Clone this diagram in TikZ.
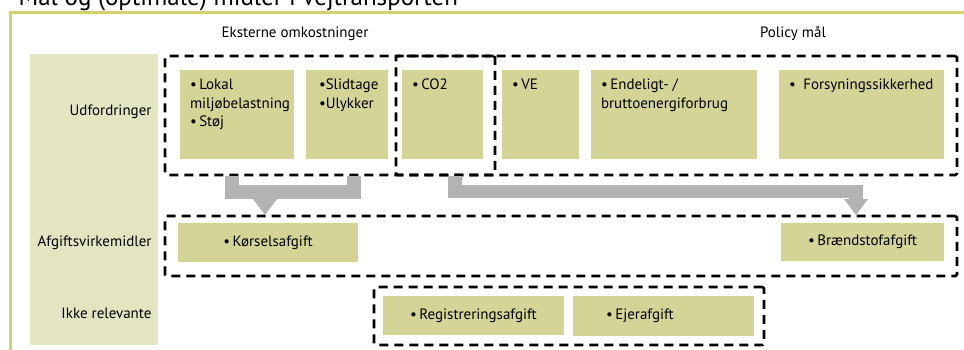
\documentclass[tikz,border=0pt]{standalone}
\usepackage{fontspec}
\setmainfont{PT Sans}
\usepackage{tikz}
\usetikzlibrary{arrows.meta}
\definecolor{CellGreen}{RGB}{211,212,149}
\definecolor{PaleGreen}{RGB}{227,229,193}
\definecolor{FrameGreen}{RGB}{212,209,108}
\definecolor{FlowGray}{RGB}{179,179,179}
\newcommand{\bodyfont}{\fontsize{15pt}{18.5pt}\selectfont}
% top aligned cell text: width, height, text
\newcommand{\cellbox}[3]{\parbox[t][\dimexpr#2pt-18pt\relax][t]{\dimexpr#1pt-20pt\relax}{\hyphenpenalty=10000\raggedright #3}}
\tikzset{
  frame/.style={draw=FrameGreen, line width=3pt, line join=miter},
  title/.style={anchor=base west, font=\fontsize{25pt}{29pt}\selectfont},
  rowpanel/.style={fill=PaleGreen, anchor=north west, inner sep=0pt, outer sep=0pt},
  rowlabel/.style={anchor=east, font=\bodyfont},
  head/.style={font=\bodyfont},
  group/.style={draw=black, line width=2.6pt, dash pattern=on 9pt off 6pt, rounded corners=1.5pt, anchor=north west, inner sep=0pt, outer sep=0pt},
  cell/.style={fill=CellGreen, anchor=north west, inner xsep=10pt, inner ysep=9pt, outer sep=0pt, font=\bodyfont},
  tax/.style={fill=CellGreen, outer sep=0pt, font=\bodyfont},
  flow/.style={draw=FlowGray, line width=13.5pt, line join=miter},
  flowhead/.style={flow, -{Triangle[width=24pt, length=16pt, line width=0pt]}}
}
\begin{document}
\begin{tikzpicture}[x=1pt, y=-1pt]
  \useasboundingbox (0,0) rectangle (964,349);
  % Frame and title
  \node[title] (title) at (15,5) {Mål og (optimale) midler i vejtransporten};
  \draw[frame] (10,352) -- (10,12.5) -- (967,12.5);

  % Row labels
  \node[rowpanel, minimum width=128, minimum height=291] (panel) at (30,54) {};
  \node[rowlabel] (udf) at (155,112) {Udfordringer};
  \node[rowlabel] (afg) at (155,243) {Afgiftsvirkemidler};
  \node[rowlabel] (ikke) at (155,313) {Ikke relevante};

  % Headers
  \node[head] (eksthead) at (295,34) {Eksterne omkostninger};
  \node[head] (polhead) at (793,34) {Policy mål};

  % Dashed groups
  \node[group, minimum width=330, minimum height=119] (ekstern) at (165,56) {};
  \node[group, minimum width=561, minimum height=119] (policy) at (396,56) {};
  \node[group, minimum width=792, minimum height=60] (virkemidler) at (165,216) {};
  \node[group, minimum width=390, minimum height=58] (irrelevant) at (374,287) {};

  % Udfordringer
  \node[cell] (lokal) at (180,70) {\cellbox{114}{89}{\textbullet\,Lokal\\ miljøbelastning\\ \textbullet\,Støj}};
  \node[cell] (slid) at (306,70) {\cellbox{82}{89}{\hspace*{3pt}\textbullet Slidtage\\ \hspace*{3pt}\textbullet Ulykker}};
  \node[cell] (co2) at (402,70) {\cellbox{81}{89}{\textbullet\,CO2}};
  \node[cell] (ve) at (502,70) {\cellbox{77}{89}{\textbullet\,VE}};
  \node[cell] (endelig) at (591,70) {\cellbox{166}{89}{\textbullet\,Endeligt- /\\ bruttoenergiforbrug}};
  \node[cell] (forsyn) at (779,70) {\cellbox{165}{89}{\textbullet\enspace Forsyningssikkerhed}};

  % Afgifter
  \node[tax, minimum width=180, minimum height=39] (korsel) at (268,242.5) {\textbullet\,Kørselsafgift};
  \node[tax, minimum width=163, minimum height=38] (braend) at (862.5,242) {\textbullet\,Brændstofafgift};
  \node[tax, minimum width=181, minimum height=39] (regafg) at (473.5,315.5) {\textbullet\,Registreringsafgift};
  \node[tax, minimum height=40, inner xsep=33pt, text width=115pt, align=left] (ejer) at (663.5,316) {\textbullet\,Ejerafgift};

  % Arrows
  \coordinate (lokalout) at (232,176);
  \coordinate (slidout) at (354,176);
  \coordinate (joinL) at (265,192);
  \coordinate (korselin) at (265,215);
  \draw[flow] (lokalout) -- (lokalout |- joinL) -- (slidout |- joinL) -- (slidout);
  \draw[flowhead] (joinL) -- (korselin);
  \coordinate (co2out) at (455,176);
  \coordinate (bendR) at (856,191.5);
  \coordinate (braendin) at (856,215);
  \draw[flowhead] (co2out) |- (bendR) -- (braendin);
\end{tikzpicture}
\end{document}
